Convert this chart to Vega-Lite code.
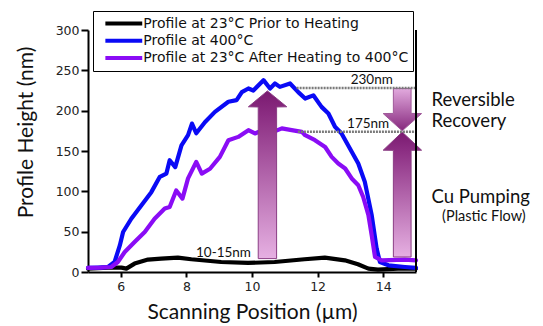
{
  "$schema": "https://vega.github.io/schema/vega-lite/v6.json",
  "autosize": {"type": "none"},
  "width": 328,
  "height": 242,
  "padding": {"left": 88, "top": 30, "right": 127, "bottom": 54},
  "background": "white",
  "config": {
    "view": {"stroke": null},
    "font": "Lato",
    "axis": {"grid": false, "domainColor": "#000", "domainWidth": 2, "tickColor": "#000", "tickWidth": 2, "labelColor": "#222", "labelFont": "DejaVu Sans", "labelFontSize": 12.5, "titleFont": "Lato", "titleFontSize": 21, "titleFontWeight": "normal", "titleColor": "#111"},
    "legend": {"labelFont": "DejaVu Sans", "labelFontSize": 14, "labelColor": "#111", "labelLimit": 400}
  },
  "datasets": {
    "curves": [
      {"s": "Profile at 23°C Prior to Heating", "x": 5.0, "y": 4.2},
      {"s": "Profile at 23°C Prior to Heating", "x": 5.61, "y": 5.4},
      {"s": "Profile at 23°C Prior to Heating", "x": 6.02, "y": 5.4},
      {"s": "Profile at 23°C Prior to Heating", "x": 6.17, "y": 4.2},
      {"s": "Profile at 23°C Prior to Heating", "x": 6.42, "y": 10.4},
      {"s": "Profile at 23°C Prior to Heating", "x": 6.83, "y": 15.4},
      {"s": "Profile at 23°C Prior to Heating", "x": 7.23, "y": 16.6},
      {"s": "Profile at 23°C Prior to Heating", "x": 7.74, "y": 17.9},
      {"s": "Profile at 23°C Prior to Heating", "x": 8.15, "y": 15.8},
      {"s": "Profile at 23°C Prior to Heating", "x": 9.06, "y": 12.4},
      {"s": "Profile at 23°C Prior to Heating", "x": 9.88, "y": 11.2},
      {"s": "Profile at 23°C Prior to Heating", "x": 10.69, "y": 12.4},
      {"s": "Profile at 23°C Prior to Heating", "x": 11.6, "y": 15.8},
      {"s": "Profile at 23°C Prior to Heating", "x": 12.22, "y": 17.9},
      {"s": "Profile at 23°C Prior to Heating", "x": 12.83, "y": 14.5},
      {"s": "Profile at 23°C Prior to Heating", "x": 13.23, "y": 9.6},
      {"s": "Profile at 23°C Prior to Heating", "x": 13.55, "y": 4.2},
      {"s": "Profile at 23°C Prior to Heating", "x": 13.84, "y": 3},
      {"s": "Profile at 23°C Prior to Heating", "x": 14.45, "y": 4.2},
      {"s": "Profile at 23°C Prior to Heating", "x": 15.0, "y": 4.2},
      {"s": "Profile at 400°C", "x": 5.0, "y": 5},
      {"s": "Profile at 400°C", "x": 5.3, "y": 5.5},
      {"s": "Profile at 400°C", "x": 5.61, "y": 6.2},
      {"s": "Profile at 400°C", "x": 5.81, "y": 12.4},
      {"s": "Profile at 400°C", "x": 5.97, "y": 33},
      {"s": "Profile at 400°C", "x": 6.07, "y": 49.6},
      {"s": "Profile at 400°C", "x": 6.32, "y": 66},
      {"s": "Profile at 400°C", "x": 6.63, "y": 82.7},
      {"s": "Profile at 400°C", "x": 6.93, "y": 99},
      {"s": "Profile at 400°C", "x": 7.19, "y": 118},
      {"s": "Profile at 400°C", "x": 7.39, "y": 122},
      {"s": "Profile at 400°C", "x": 7.49, "y": 138.6},
      {"s": "Profile at 400°C", "x": 7.66, "y": 130},
      {"s": "Profile at 400°C", "x": 7.85, "y": 157},
      {"s": "Profile at 400°C", "x": 8.05, "y": 169.6},
      {"s": "Profile at 400°C", "x": 8.17, "y": 184},
      {"s": "Profile at 400°C", "x": 8.3, "y": 172},
      {"s": "Profile at 400°C", "x": 8.57, "y": 186},
      {"s": "Profile at 400°C", "x": 8.87, "y": 198.5},
      {"s": "Profile at 400°C", "x": 9.28, "y": 211},
      {"s": "Profile at 400°C", "x": 9.53, "y": 213},
      {"s": "Profile at 400°C", "x": 9.69, "y": 223},
      {"s": "Profile at 400°C", "x": 9.89, "y": 227.5},
      {"s": "Profile at 400°C", "x": 10.04, "y": 225},
      {"s": "Profile at 400°C", "x": 10.35, "y": 237.8},
      {"s": "Profile at 400°C", "x": 10.55, "y": 227.5},
      {"s": "Profile at 400°C", "x": 10.7, "y": 233.7},
      {"s": "Profile at 400°C", "x": 10.85, "y": 229.5},
      {"s": "Profile at 400°C", "x": 11.16, "y": 233.7},
      {"s": "Profile at 400°C", "x": 11.41, "y": 223},
      {"s": "Profile at 400°C", "x": 11.62, "y": 215},
      {"s": "Profile at 400°C", "x": 11.87, "y": 219},
      {"s": "Profile at 400°C", "x": 12.12, "y": 204.7},
      {"s": "Profile at 400°C", "x": 12.33, "y": 196.5},
      {"s": "Profile at 400°C", "x": 12.53, "y": 180},
      {"s": "Profile at 400°C", "x": 12.73, "y": 171.7},
      {"s": "Profile at 400°C", "x": 13.04, "y": 149},
      {"s": "Profile at 400°C", "x": 13.24, "y": 134.5},
      {"s": "Profile at 400°C", "x": 13.44, "y": 111.7},
      {"s": "Profile at 400°C", "x": 13.65, "y": 70.3},
      {"s": "Profile at 400°C", "x": 13.8, "y": 29},
      {"s": "Profile at 400°C", "x": 13.9, "y": 12.4},
      {"s": "Profile at 400°C", "x": 14.16, "y": 8.3},
      {"s": "Profile at 400°C", "x": 14.66, "y": 6.2},
      {"s": "Profile at 400°C", "x": 15.0, "y": 5},
      {"s": "Profile at 23°C After Heating to 400°C", "x": 5.0, "y": 5},
      {"s": "Profile at 23°C After Heating to 400°C", "x": 5.4, "y": 5.5},
      {"s": "Profile at 23°C After Heating to 400°C", "x": 5.71, "y": 6.2},
      {"s": "Profile at 23°C After Heating to 400°C", "x": 5.91, "y": 12.4},
      {"s": "Profile at 23°C After Heating to 400°C", "x": 6.12, "y": 24.8},
      {"s": "Profile at 23°C After Heating to 400°C", "x": 6.42, "y": 37.2},
      {"s": "Profile at 23°C After Heating to 400°C", "x": 6.73, "y": 49.6},
      {"s": "Profile at 23°C After Heating to 400°C", "x": 7.03, "y": 66},
      {"s": "Profile at 23°C After Heating to 400°C", "x": 7.34, "y": 78.6},
      {"s": "Profile at 23°C After Heating to 400°C", "x": 7.49, "y": 80.6},
      {"s": "Profile at 23°C After Heating to 400°C", "x": 7.69, "y": 101},
      {"s": "Profile at 23°C After Heating to 400°C", "x": 7.88, "y": 91},
      {"s": "Profile at 23°C After Heating to 400°C", "x": 8.05, "y": 116},
      {"s": "Profile at 23°C After Heating to 400°C", "x": 8.3, "y": 136.5},
      {"s": "Profile at 23°C After Heating to 400°C", "x": 8.47, "y": 122},
      {"s": "Profile at 23°C After Heating to 400°C", "x": 8.72, "y": 128},
      {"s": "Profile at 23°C After Heating to 400°C", "x": 9.02, "y": 142.7},
      {"s": "Profile at 23°C After Heating to 400°C", "x": 9.28, "y": 163.4},
      {"s": "Profile at 23°C After Heating to 400°C", "x": 9.58, "y": 167.5},
      {"s": "Profile at 23°C After Heating to 400°C", "x": 9.89, "y": 175.8},
      {"s": "Profile at 23°C After Heating to 400°C", "x": 10.09, "y": 171.7},
      {"s": "Profile at 23°C After Heating to 400°C", "x": 10.45, "y": 178},
      {"s": "Profile at 23°C After Heating to 400°C", "x": 10.65, "y": 173.7},
      {"s": "Profile at 23°C After Heating to 400°C", "x": 10.91, "y": 178},
      {"s": "Profile at 23°C After Heating to 400°C", "x": 11.21, "y": 175.8},
      {"s": "Profile at 23°C After Heating to 400°C", "x": 11.52, "y": 173.7},
      {"s": "Profile at 23°C After Heating to 400°C", "x": 11.62, "y": 169.6},
      {"s": "Profile at 23°C After Heating to 400°C", "x": 11.92, "y": 163.4},
      {"s": "Profile at 23°C After Heating to 400°C", "x": 12.23, "y": 155},
      {"s": "Profile at 23°C After Heating to 400°C", "x": 12.43, "y": 142.7},
      {"s": "Profile at 23°C After Heating to 400°C", "x": 12.63, "y": 134.5},
      {"s": "Profile at 23°C After Heating to 400°C", "x": 12.84, "y": 128.3},
      {"s": "Profile at 23°C After Heating to 400°C", "x": 13.04, "y": 116},
      {"s": "Profile at 23°C After Heating to 400°C", "x": 13.24, "y": 107.6},
      {"s": "Profile at 23°C After Heating to 400°C", "x": 13.39, "y": 93},
      {"s": "Profile at 23°C After Heating to 400°C", "x": 13.55, "y": 70.3},
      {"s": "Profile at 23°C After Heating to 400°C", "x": 13.65, "y": 45.5},
      {"s": "Profile at 23°C After Heating to 400°C", "x": 13.75, "y": 18.6},
      {"s": "Profile at 23°C After Heating to 400°C", "x": 13.95, "y": 14.5},
      {"s": "Profile at 23°C After Heating to 400°C", "x": 14.66, "y": 15.4},
      {"s": "Profile at 23°C After Heating to 400°C", "x": 15.0, "y": 14.5}
    ],
    "arrowMid": [
      {"ay": 16.6, "ax": 10.19, "ax2": 10.75},
      {"ay": 204.6, "ax": 10.19, "ax2": 10.75},
      {"ay": 204.8, "ax": 9.89, "ax2": 11.06},
      {"ay": 224.5, "ax": 10.47, "ax2": 10.47}
    ],
    "arrowDown": [
      {"ay": 175, "ax": 14.58, "ax2": 14.58},
      {"ay": 196.4, "ax": 14.0, "ax2": 15.17},
      {"ay": 196.6, "ax": 14.31, "ax2": 14.85},
      {"ay": 227.5, "ax": 14.31, "ax2": 14.85}
    ],
    "arrowUp": [
      {"ay": 18.6, "ax": 14.31, "ax2": 14.85},
      {"ay": 150.8, "ax": 14.31, "ax2": 14.85},
      {"ay": 151.0, "ax": 14.0, "ax2": 15.17},
      {"ay": 173.5, "ax": 14.58, "ax2": 14.58}
    ],
    "dotted": [
      {"x": 11.36, "x2": 15, "y": 228},
      {"x": 11.4, "x2": 15, "y": 174}
    ],
    "labels": [
      {"t": "230nm", "x": 13.65, "y": 238.5},
      {"t": "175nm", "x": 13.54, "y": 183},
      {"t": "10-15nm", "x": 9.13, "y": 24}
    ],
    "side": [
      {"t": "Reversible", "x": 15.47, "y": 213},
      {"t": "Recovery", "x": 15.47, "y": 187.3},
      {"t": "Cu Pumping", "x": 15.47, "y": 93}
    ],
    "side2": [
      {"t": "(Plastic Flow)", "x": 17.07, "y": 68.2}
    ]
  },
  "layer": [
    {
      "data": {"name": "curves"},
      "mark": {"type": "line", "strokeWidth": 4.2, "strokeJoin": "round", "strokeCap": "round"},
      "encoding": {
        "x": {"field": "x", "type": "quantitative", "scale": {"domain": [5, 15], "nice": false, "zero": false},
          "axis": {"values": [6, 8, 10, 12, 14], "tickSize": 5, "labelPadding": 3, "title": "Scanning Position (µm)", "titleY": 46, "titleBaseline": "alphabetic"}},
        "y": {"field": "y", "type": "quantitative", "scale": {"domain": [0, 300], "nice": false},
          "axis": {"values": [0, 50, 100, 150, 200, 250, 300], "tickSize": 7, "labelPadding": 2, "title": "Profile Height (nm)", "titleX": -62, "titleY": 102, "titleAngle": -90, "titleAlign": "center", "titleBaseline": "middle"}},
        "color": {"field": "s", "type": "nominal", "sort": null,
          "scale": {"domain": ["Profile at 23°C Prior to Heating", "Profile at 400°C", "Profile at 23°C After Heating to 400°C"], "range": ["#000000", "#0a0af5", "#8a0cf5"]},
          "legend": {"title": null, "orient": "none", "legendX": 5, "legendY": -19, "symbolType": "M-3,0H3", "symbolSize": 151, "symbolStrokeWidth": 4, "symbolOffset": 18.3, "labelOffset": 11, "padding": 4, "rowPadding": 0.3, "strokeColor": "#000", "fillColor": "white"}}
      }
    },
    {
      "data": {"name": "arrowMid"},
      "mark": {"type": "area", "orient": "horizontal", "stroke": "#8a3d84", "strokeWidth": 1,
        "color": {"gradient": "linear", "x1": 0, "y1": 1, "x2": 0, "y2": 0, "stops": [{"offset": 0, "color": "#e6b0e2"}, {"offset": 0.85, "color": "#8c2e83"}, {"offset": 1, "color": "#7a1a70"}]}},
      "encoding": {"y": {"field": "ay", "type": "quantitative"}, "x": {"field": "ax", "type": "quantitative"}, "x2": {"field": "ax2"}}
    },
    {
      "data": {"name": "arrowDown"},
      "mark": {"type": "area", "orient": "horizontal", "stroke": "#a05a9a", "strokeWidth": 1,
        "color": {"gradient": "linear", "x1": 0, "y1": 0, "x2": 0, "y2": 1, "stops": [{"offset": 0, "color": "#e2aade"}, {"offset": 1, "color": "#86287d"}]}},
      "encoding": {"y": {"field": "ay", "type": "quantitative"}, "x": {"field": "ax", "type": "quantitative"}, "x2": {"field": "ax2"}}
    },
    {
      "data": {"name": "arrowUp"},
      "mark": {"type": "area", "orient": "horizontal", "stroke": "#8a3d84", "strokeWidth": 1,
        "color": {"gradient": "linear", "x1": 0, "y1": 1, "x2": 0, "y2": 0, "stops": [{"offset": 0, "color": "#e6b0e2"}, {"offset": 0.85, "color": "#8c2e83"}, {"offset": 1, "color": "#7a1a70"}]}},
      "encoding": {"y": {"field": "ay", "type": "quantitative"}, "x": {"field": "ax", "type": "quantitative"}, "x2": {"field": "ax2"}}
    },
    {
      "data": {"name": "dotted"},
      "mark": {"type": "rule", "color": "#7a7a7a", "strokeWidth": 2.5, "strokeDash": [2, 1]},
      "encoding": {"x": {"field": "x", "type": "quantitative"}, "x2": {"field": "x2"}, "y": {"field": "y", "type": "quantitative"}}
    },
    {
      "data": {"values": [{"x": 15, "y": 0, "y2": 300}]},
      "mark": {"type": "rule", "color": "#000", "strokeWidth": 2},
      "encoding": {"x": {"field": "x", "type": "quantitative"}, "y": {"field": "y", "type": "quantitative"}, "y2": {"field": "y2"}}
    },
    {
      "data": {"name": "labels"},
      "mark": {"type": "text", "fontSize": 13.5, "font": "Lato", "color": "#111", "align": "center", "baseline": "middle"},
      "encoding": {"x": {"field": "x", "type": "quantitative"}, "y": {"field": "y", "type": "quantitative"}, "text": {"field": "t"}}
    },
    {
      "data": {"name": "side"},
      "mark": {"type": "text", "fontSize": 18.5, "font": "Lato", "color": "#111", "align": "left", "baseline": "middle"},
      "encoding": {"x": {"field": "x", "type": "quantitative"}, "y": {"field": "y", "type": "quantitative"}, "text": {"field": "t"}}
    },
    {
      "data": {"name": "side2"},
      "mark": {"type": "text", "fontSize": 14.5, "font": "Lato", "color": "#111", "align": "center", "baseline": "middle"},
      "encoding": {"x": {"field": "x", "type": "quantitative"}, "y": {"field": "y", "type": "quantitative"}, "text": {"field": "t"}}
    }
  ]
}
